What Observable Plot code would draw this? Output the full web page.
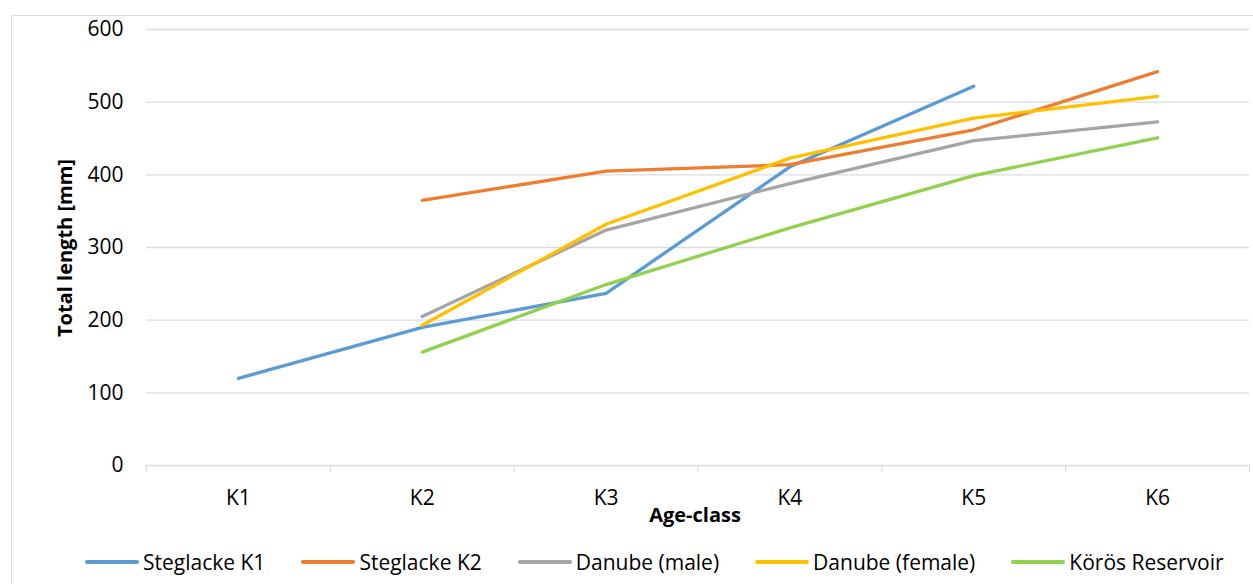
<!DOCTYPE html>
<html><head><meta charset="utf-8">
<script src="https://cdn.jsdelivr.net/npm/d3@7"></script>
<script src="https://cdn.jsdelivr.net/npm/@observablehq/plot@0.6"></script>
<style>
body{margin:0;background:#fff;overflow:hidden}
#wrap{position:relative;width:1253px;height:584px;overflow:hidden;font-family:"Open Sans",sans-serif;color:#000;background:#fff}
#frame{position:absolute;left:11px;top:15px;width:1300px;height:700px;border:1px solid #d9dce3}
#chart{position:absolute;left:0;top:0}
.ytitle{position:absolute;left:64px;top:248px;transform:translate(-50%,-50%) rotate(-90deg);font-weight:bold;font-size:20px;white-space:nowrap}
.xtitle{position:absolute;left:695px;top:514px;transform:translate(-50%,-50%);font-weight:bold;font-size:20px;white-space:nowrap}
#legend{position:absolute;left:85px;top:562px;transform:translateY(-50%);display:flex;gap:36px;font-size:21px;white-space:nowrap}
.item{display:flex;align-items:center;gap:4px}
.sw{width:54px;height:4.5px;border-radius:2px}
</style>
</head><body>
<div id="wrap">
  <div id="frame"></div>
  <div id="chart"></div>
  <div class="ytitle">Total length [mm]</div>
  <div class="xtitle">Age-class</div>
  <div id="legend"></div>
</div>
<script>
const categories = ["K1", "K2", "K3", "K4", "K5", "K6"];
const yTicks = [0, 100, 200, 300, 400, 500, 600];
const seriesNames = ["Steglacke K1", "Steglacke K2", "Danube (male)", "Danube (female)", "Körös Reservoir"];
const seriesColors = ["#5B9BD5", "#ED7D31", "#A5A5A5", "#FFC000", "#92D050"];
const steglackeK1 = [120, 190, 237, 411, 522, null];
const steglackeK2 = [null, 365, 405, 414, 462, 542];
const danubeMale = [null, 205, 324, 388, 447, 473];
const danubeFemale = [null, 193, 332, 423, 478, 508];
const korosReservoir = [null, 156, 249, 327, 399, 451];

const seriesValues = [steglackeK1, steglackeK2, danubeMale, danubeFemale, korosReservoir];
const rows = [];
seriesValues.forEach((vals, s) => {
  vals.forEach((v, i) => {
    if (v != null) rows.push({series: seriesNames[s], x: i + 1, y: v});
  });
});
const xs = categories.map((_, i) => i + 1);
const edges = d3.range(0, categories.length + 1).map(i => i + 0.5);

const chart = Plot.plot({
  width: 1253,
  height: 530,
  marginLeft: 146,
  marginRight: 4,
  marginTop: 29,
  marginBottom: 65,
  style: {fontFamily: "'Open Sans', sans-serif", fontSize: "21px", background: "transparent", color: "#000", overflow: "visible"},
  x: {type: "linear", domain: [0.5, categories.length + 0.5]},
  y: {domain: [0, 600]},
  color: {domain: seriesNames, range: seriesColors},
  marks: [
    Plot.gridY(yTicks, {stroke: "#d9dce3", strokeOpacity: 1, strokeWidth: 1.3}),
    Plot.axisX(edges, {tickSize: 7, tickFormat: () => "", stroke: "#d9dce3", strokeOpacity: 1, strokeWidth: 1.3, label: null}),
    Plot.axisX(xs, {tickSize: 0, tickPadding: 25, fontSize: 21, tickFormat: d => categories[d - 1], label: null}),
    Plot.axisY(yTicks, {tickSize: 0, tickPadding: 23, fontSize: 21, label: null}),
    Plot.line(rows, {x: "x", y: "y", z: "series", stroke: "series", strokeWidth: 3.3, strokeLinecap: "round", strokeLinejoin: "round"})
  ]
});
document.getElementById("chart").appendChild(chart);

const legend = document.getElementById("legend");
seriesNames.forEach((name, i) => {
  const item = document.createElement("div");
  item.className = "item";
  const sw = document.createElement("div");
  sw.className = "sw";
  sw.style.background = seriesColors[i];
  const label = document.createElement("span");
  label.textContent = name;
  item.appendChild(sw);
  item.appendChild(label);
  legend.appendChild(item);
});
</script>
</body></html>
